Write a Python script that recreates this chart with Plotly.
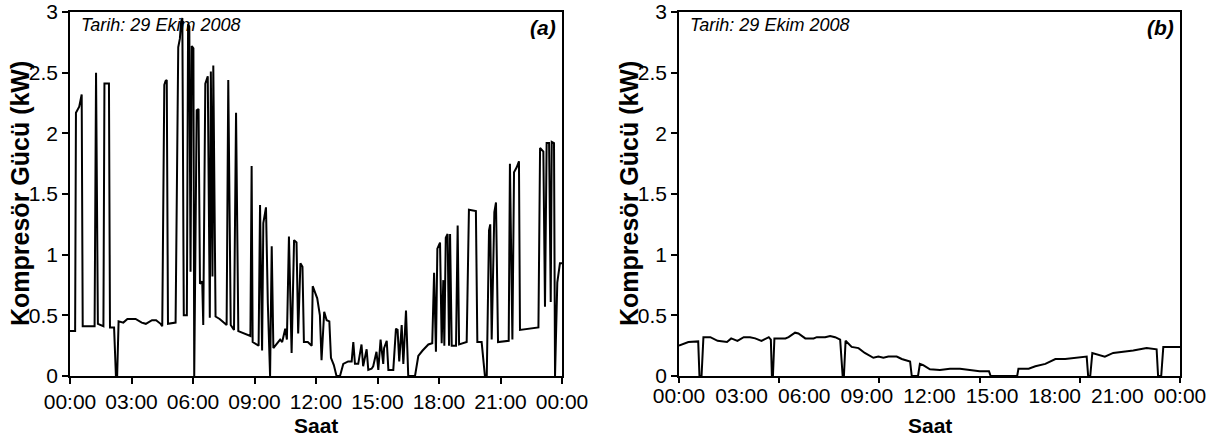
import plotly.graph_objects as go

# ---------------- data ----------------
hour_ticks = [0, 3, 6, 9, 12, 15, 18, 21, 24]
hour_labels = ["00:00", "03:00", "06:00", "09:00", "12:00", "15:00", "18:00", "21:00", "00:00"]
b_tick_marks = [0, 4.8, 9.6, 14.4, 19.2, 24]
y_ticks = [0, 0.5, 1, 1.5, 2, 2.5, 3]
y_labels = ["0", "0.5", "1", "1.5", "2", "2.5", "3"]

a_hours = [0.0, 0.25, 0.29, 0.45, 0.57, 0.62, 1.20, 1.27, 1.36, 1.55, 1.63, 1.68, 1.90, 1.95, 2.15, 2.24, 2.30,
           2.37, 2.60, 2.80, 3.20, 3.50, 3.70, 4.00, 4.20, 4.42, 4.50, 4.60, 4.66, 4.72, 4.78, 5.15,
           5.28, 5.36, 5.42, 5.48, 5.55, 5.70, 5.76, 5.82, 5.88, 5.94, 6.02, 6.06, 6.18, 6.27, 6.34,
           6.45, 6.50, 6.60, 6.72, 6.82, 6.87, 6.95, 6.99, 7.10, 7.30, 7.50, 7.64, 7.72, 7.84, 8.00,
           8.10, 8.21, 8.50, 8.80, 8.86, 8.91, 9.20, 9.27, 9.37, 9.43, 9.56, 9.65, 9.76, 9.84, 9.92,
           10.10, 10.25, 10.35, 10.50, 10.58, 10.68, 10.81, 10.93, 11.05, 11.13, 11.24, 11.34, 11.41,
           11.60, 11.79, 11.84, 12.06, 12.19, 12.27, 12.40, 12.52, 12.65, 12.73, 12.87, 13.00, 13.17,
           13.33, 13.57, 13.74, 13.82, 13.90, 14.06, 14.22, 14.30, 14.47, 14.55, 14.71, 14.79, 14.95,
           15.04, 15.15, 15.28, 15.32, 15.45, 15.53, 15.77, 15.90, 15.98, 16.06, 16.18, 16.26, 16.39,
           16.50, 16.83, 16.99, 17.20, 17.48, 17.67, 17.76, 17.85, 17.92, 18.05, 18.13, 18.21, 18.26,
           18.33, 18.42, 18.49, 18.54, 18.62, 18.83, 18.91, 18.98, 19.35, 19.46, 19.80, 19.87, 20.08,
           20.24, 20.33, 20.44, 20.50, 20.57, 20.70, 20.78, 20.88, 21.40, 21.46, 21.58, 21.66, 21.79,
           21.90, 21.95, 22.40, 22.85, 22.93, 23.09, 23.17, 23.25, 23.37, 23.45, 23.50, 23.61, 23.66,
           23.77, 23.90, 24.00]
a_kw = [0.37, 0.37, 2.17, 2.22, 2.32, 0.41, 0.41, 2.50, 0.43, 0.42, 0.41, 2.41, 2.41, 0.40, 0.40, 0.00, 0.00,
        0.45, 0.44, 0.47, 0.47, 0.44, 0.43, 0.46, 0.46, 0.43, 0.41, 2.40, 2.43, 2.44, 0.43, 0.44,
        2.71, 2.78, 2.92, 2.95, 0.50, 0.50, 2.90, 2.88, 0.86, 2.72, 2.70, 0.00, 2.19, 2.20, 0.76,
        0.78, 0.42, 2.41, 2.47, 0.48, 2.51, 0.82, 2.56, 0.49, 0.47, 0.44, 0.42, 2.44, 0.42, 0.38,
        2.17, 0.37, 0.35, 0.33, 1.73, 0.28, 0.25, 1.41, 0.21, 1.26, 1.39, 0.60, 0.00, 1.07, 0.23,
        0.27, 0.30, 0.28, 0.39, 0.30, 1.15, 0.19, 1.12, 1.10, 0.35, 0.93, 0.90, 0.28,
        0.28, 0.25, 0.74, 0.64, 0.50, 0.13, 0.53, 0.46, 0.45, 0.15, 0.09, 0.00, 0.00,
        0.10, 0.12, 0.12, 0.28, 0.10, 0.10, 0.26, 0.08, 0.22, 0.05, 0.06, 0.08, 0.20,
        0.05, 0.30, 0.10, 0.23, 0.29, 0.05, 0.05, 0.39, 0.38, 0.12, 0.42, 0.10, 0.54,
        0.00, 0.00, 0.165, 0.21, 0.26, 0.27, 0.85, 0.20, 1.05, 1.10, 0.27, 0.79, 0.25,
        1.14, 1.17, 0.25, 1.17, 0.25, 0.25, 1.24, 0.26, 0.28, 1.37, 1.36, 0.28, 0.28,
        0.00, 0.00, 1.20, 1.25, 0.30, 1.35, 1.43, 0.28, 0.29, 1.75, 0.30, 1.68, 1.72,
        1.77, 0.38, 0.39, 0.40, 1.88, 1.85, 0.57, 1.92, 1.92, 0.61, 1.93, 1.92, 0.00,
        0.77, 0.93, 0.93]

b_hours = [0.0, 0.45, 0.92, 0.98, 1.08, 1.17, 1.50, 1.85, 2.30, 2.50, 2.80, 3.10, 3.40, 3.65, 3.95, 4.30,
           4.40, 4.45, 4.50, 4.57, 5.10, 5.25, 5.56, 5.72, 6.05, 6.45, 6.60, 7.00, 7.24, 7.48, 7.72,
           7.84, 7.90, 7.98, 8.27, 8.60, 8.90, 9.31, 9.55, 9.79, 10.03, 10.43, 10.67, 11.07, 11.15,
           11.45, 11.54, 11.70, 12.02, 12.50, 12.98, 13.46, 13.93, 14.40, 14.85, 14.93, 16.20, 16.26,
           16.75, 17.07, 17.55, 18.03, 18.50, 18.98, 19.53, 19.60, 19.70, 19.80, 20.00, 20.40, 20.80,
           21.28, 21.76, 22.40, 22.88, 22.95, 23.10, 23.20, 24.00]
b_kw = [0.25, 0.28, 0.285, 0.00, 0.00, 0.32, 0.32, 0.29, 0.28, 0.31, 0.29, 0.32, 0.32, 0.31, 0.29, 0.32,
        0.30, 0.00, 0.00, 0.31, 0.31, 0.32, 0.357, 0.35, 0.31, 0.31, 0.32, 0.32, 0.33, 0.32, 0.30,
        0.00, 0.00, 0.29, 0.24, 0.23, 0.19, 0.15, 0.16, 0.15, 0.16, 0.16, 0.14, 0.12, 0.00,
        0.00, 0.10, 0.09, 0.055, 0.05, 0.06, 0.06, 0.05, 0.04, 0.04, 0.00, 0.00, 0.06,
        0.06, 0.08, 0.10, 0.14, 0.14, 0.15, 0.16, 0.00, 0.00, 0.19, 0.18, 0.16, 0.19,
        0.20, 0.21, 0.23, 0.22, 0.00, 0.00, 0.24, 0.24]

date_text = "Tarih: 29 Ekim 2008"
y_title = "Kompresör Gücü (kW)"
x_title = "Saat"

# ---------------- figure ----------------
W, H = 1210, 436
FONT = "Liberation Sans, Arial, sans-serif"

def fx(px):
    return px / W

def fy(py):
    return 1 - py / H

top, bottom = 12, 376
a_l, a_r = 70, 562
b_l, b_r = 679, 1180

fig = go.Figure()
line = dict(color="black", width=2)
fig.add_trace(go.Scatter(x=a_hours, y=a_kw, mode="lines", line=line, xaxis="x", yaxis="y", showlegend=False))
fig.add_trace(go.Scatter(x=b_hours, y=b_kw, mode="lines", line=line, xaxis="x2", yaxis="y2", showlegend=False))
# helper trace so the tick-only overlay axis of panel (b) is drawn
fig.add_trace(go.Scatter(x=[None], y=[None], mode="lines", xaxis="x3", yaxis="y2", showlegend=False, hoverinfo="skip"))

tickfont = dict(family=FONT, size=21, color="black")
common_x = dict(range=[0, 24], showgrid=False, zeroline=False, showline=True, linecolor="black",
                linewidth=1.5, mirror=True, tickfont=tickfont, tickcolor="black", ticklen=6, tickwidth=1.5,
                automargin=False)
common_y = dict(range=[0, 3], showgrid=False, zeroline=False, showline=True, linecolor="black",
                linewidth=1.5, mirror=True, ticks="outside", tickvals=y_ticks, ticktext=y_labels,
                tickfont=tickfont, tickcolor="black", ticklen=6, tickwidth=1.5, automargin=False)

fig.update_layout(
    width=W, height=H,
    margin=dict(l=0, r=0, t=0, b=0, autoexpand=False),
    paper_bgcolor="white", plot_bgcolor="white",
    xaxis=dict(common_x, domain=[fx(a_l), fx(a_r)], anchor="y", ticks="outside",
               tickvals=hour_ticks, ticktext=hour_labels),
    yaxis=dict(common_y, domain=[fy(bottom), fy(top)], anchor="x"),
    xaxis2=dict(common_x, domain=[fx(b_l), fx(b_r)], anchor="y2", ticks="",
                tickvals=hour_ticks, ticktext=hour_labels),
    yaxis2=dict(common_y, domain=[fy(bottom), fy(top)], anchor="x2"),
    xaxis3=dict(range=[0, 24], overlaying="x2", anchor="y2", side="bottom", showgrid=False,
                zeroline=False, showline=False, ticks="outside", tickvals=b_tick_marks,
                showticklabels=False, tickcolor="black", ticklen=6, tickwidth=1.5, automargin=False),
)

ann = []
for l, r, tag in [(a_l, a_r, "(a)"), (b_l, b_r, "(b)")]:
    ann.append(dict(text=date_text, x=fx(l + 9), y=fy(25), xref="paper", yref="paper",
                    xanchor="left", yanchor="middle", showarrow=False,
                    font=dict(family=FONT, size=18, color="black", style="italic")))
    ann.append(dict(text="<b><i>" + tag + "</i></b>", x=fx(r - 4), y=fy(27), xref="paper", yref="paper",
                    xanchor="right", yanchor="middle", showarrow=False,
                    font=dict(family=FONT, size=21, color="black")))
    ann.append(dict(text="<b>" + x_title + "</b>", x=fx((l + r) / 2), y=fy(425), xref="paper", yref="paper",
                    xanchor="center", yanchor="middle", showarrow=False,
                    font=dict(family=FONT, size=21, color="black")))
    ann.append(dict(text="<b>" + y_title + "</b>", x=fx(l - 50), y=fy(194), xref="paper", yref="paper",
                    xanchor="center", yanchor="middle", showarrow=False, textangle=-90,
                    font=dict(family=FONT, size=25, color="black")))
fig.update_layout(annotations=ann)

fig.write_html("out.html", config={"displayModeBar": False},
               post_script="document.body.style.margin='0';document.body.style.overflow='hidden';")
